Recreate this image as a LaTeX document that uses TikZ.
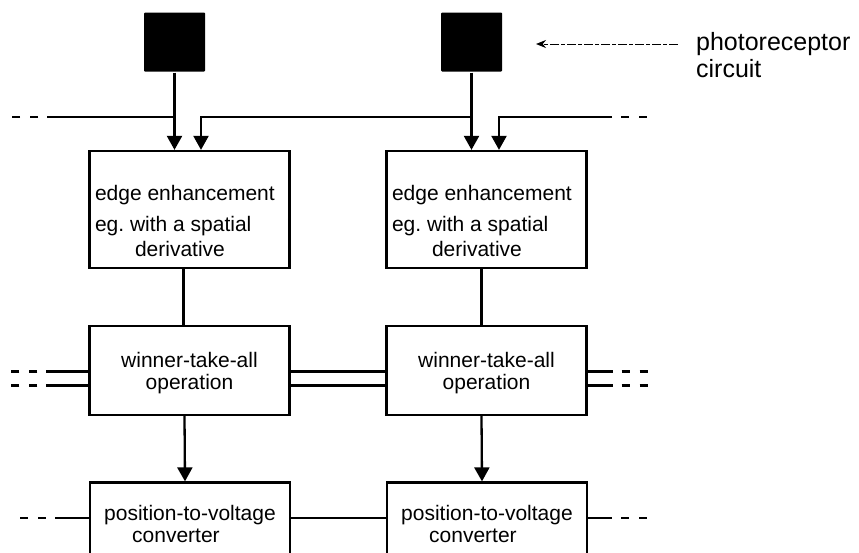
\documentclass[tikz,border=0pt]{standalone}
\usepackage{fontspec}
\setmainfont{Liberation Sans}
\usetikzlibrary{arrows.meta}

\begin{document}
\begin{tikzpicture}[
        x=1pt,y=-1pt,
        line width=2.3pt,
        >={Triangle[width=15pt,length=14pt]},
        blk/.style={draw,minimum width=200pt,inner sep=0pt},
        cell/.style={fill=black,minimum width=61pt,minimum height=59pt,inner sep=0pt,rounded corners=1pt},
        lbl/.style={inner sep=0pt,font=\fontsize{21}{22}\selectfont},
        stub/.style={dash pattern=on 8pt off 10pt,dash phase=9pt},
        pointer/.style={line width=1pt,dash pattern=on 9pt off 2pt on 4pt off 2pt,-{Stealth[length=10pt,width=8pt]}}
    ]
        \useasboundingbox (0,0) rectangle (859,552);
        \clip (0,0) rectangle (859,552);

        % photoreceptor circuits
        \node[cell] (sqL) at (174.5,42) {};
        \node[cell] (sqR) at (471.5,42) {};

        % edge enhancement
        \node[blk,minimum height=117pt] (eL) at (189.5,209.5) {};
        \node[blk,minimum height=117pt] (eR) at (486.5,209.5) {};
        \node[lbl,font=\fontsize{21}{25}\selectfont,align=left,anchor=west] (eLt) at ([xshift=5.5pt,yshift=-11pt]eL.west)
            {edge enhancement\\[6pt]eg.\ with a spatial\\\hspace*{40pt}derivative};
        \node[lbl,font=\fontsize{21}{25}\selectfont,align=left,anchor=west] (eRt) at ([xshift=5.5pt,yshift=-11pt]eR.west)
            {edge enhancement\\[6pt]eg.\ with a spatial\\\hspace*{40pt}derivative};

        % winner-take-all
        \node[blk,minimum height=89pt] (wL) at (189.5,370.5) {};
        \node[blk,minimum height=89pt] (wR) at (486.5,370.5) {};
        \node[lbl,align=center] (wLt) at ([yshift=-3pt]wL.center) {winner-take-all\\operation};
        \node[lbl,align=center] (wRt) at ([yshift=-3pt]wR.center) {winner-take-all\\operation};

        % position-to-voltage
        \node[blk,minimum height=83pt,lbl,align=left] (pL) at (190,524) {position-to-voltage\\\hspace*{28pt}converter};
        \node[blk,minimum height=83pt,lbl,align=left] (pR) at (487,524) {position-to-voltage\\\hspace*{28pt}converter};

        % label
        \node[lbl,font=\fontsize{25}{27}\selectfont,align=left,anchor=west] (photo) at (695,55) {photoreceptor\\circuit};
        \coordinate (ptrA) at (678,44);
        \coordinate (ptr) at (536,44);
        \draw[pointer] (ptrA) -- (ptr);

        % inputs
        \coordinate (bus) at (0,117);
        \coordinate (busL) at (47,117);
        \coordinate (busR) at (612,117);
        \draw[->] (sqL) -- (sqL |- eL.north);
        \draw[->] (sqR) -- (sqR |- eR.north);
        \draw[->] (sqR |- bus) -| ([xshift=11.5pt]eL.north);
        \draw[->] (busR) -| ([xshift=12.5pt]eR.north);
        \draw (sqL |- bus) -- (busL);
        \draw[stub] (busL) -- ++(-36,0);
        \draw[stub] (busR) -- ++(36,0);

        % down the columns
        \draw ([xshift=-6pt]eL.south) -- ([xshift=-6pt]wL.north);
        \draw ([xshift=-5pt]eR.south) -- ([xshift=-5pt]wR.north);
        \draw[->] ([xshift=-5pt]wL.south) -- ([xshift=-5pt]pL.north);
        \draw[->] ([xshift=-5pt]wR.south) -- ([xshift=-5pt]pR.north);

        % winner-take-all lines
        \draw ([yshift=-1pt]wL.east) -- ([yshift=-1pt]wR.west);
        \draw ([yshift=-15pt]wL.east) -- ([yshift=-15pt]wR.west);
        \draw ([yshift=-1pt]wL.west) -- ++(-42,0) coordinate (wa);
        \draw ([yshift=-15pt]wL.west) -- ++(-42,0) coordinate (wb);
        \draw[stub] (wa) -- ++(-36,0);
        \draw[stub] (wb) -- ++(-36,0);
        \draw ([yshift=-1pt]wR.east) -- ++(25,0) coordinate (wc);
        \draw ([yshift=-15pt]wR.east) -- ++(25,0) coordinate (wd);
        \draw[stub] (wc) -- ++(36,0);
        \draw[stub] (wd) -- ++(36,0);

        % position lines
        \draw ([yshift=6pt]pL.east) -- ([yshift=6pt]pR.west);
        \draw ([yshift=6pt]pL.west) -- ++(-34,0) coordinate (pa);
        \draw[stub] (pa) -- ++(-36,0);
        \draw ([yshift=6pt]pR.east) -- ++(24,0) coordinate (pb);
        \draw[stub] (pb) -- ++(36,0);
    \end{tikzpicture}
\end{document}
